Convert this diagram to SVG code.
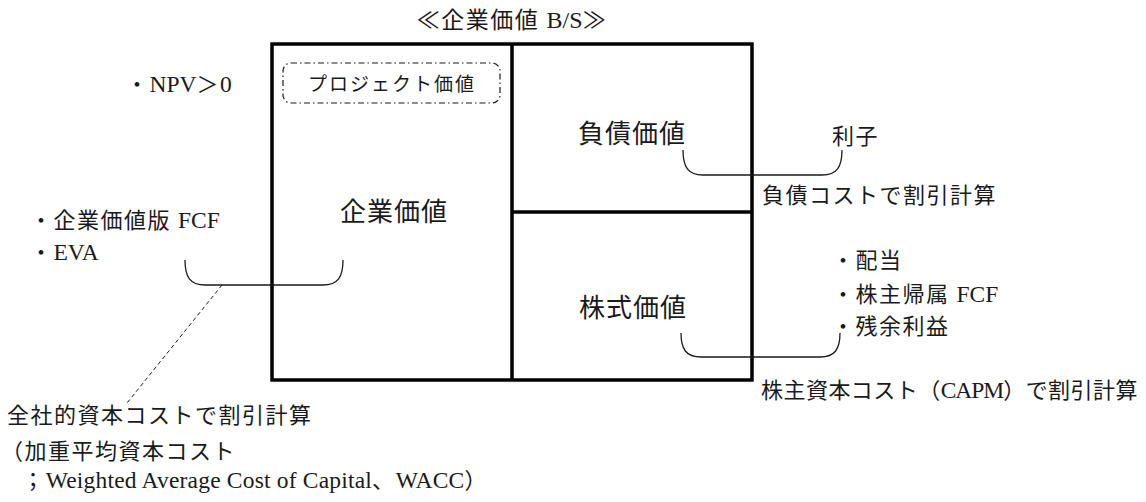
<svg xmlns="http://www.w3.org/2000/svg" width="1146" height="502" viewBox="0 0 1146 502">
<style>
text{font-family:"Liberation Serif","Noto Sans CJK JP",serif;fill:#1a1a1a;}
.s{font-size:22px;letter-spacing:1.5px;}
.b{font-size:26px;letter-spacing:1px;}
.l{font-family:"Liberation Serif",serif;letter-spacing:0;font-size:23.5px;}
.frame{fill:none;stroke:#000;stroke-width:3.5;}
.br{fill:none;stroke:#1a1a1a;stroke-width:1.3;}
</style>
<rect width="1146" height="502" fill="#fff"/>
<g id="title"><text class="s" x="512" y="28" text-anchor="middle" style="font-size:23px">≪企業価値 <tspan class="l" style="font-size:24px">B/S</tspan>≫</text></g>
<g id="bs">
<rect class="frame" x="272" y="44" width="480" height="336"/>
<line class="frame" x1="512" y1="44" x2="512" y2="380"/>
<line class="frame" x1="512" y1="212" x2="752" y2="212"/>
</g>
<g id="project"><rect x="283" y="63" width="217" height="40" rx="8" fill="none" stroke="#1a1a1a" stroke-width="1.2" stroke-dasharray="6,3,1.5,3"/>
<text x="392" y="91" text-anchor="middle" style="font-size:19px;letter-spacing:2px">プロジェクト価値</text></g>
<g id="npv"><text class="s" x="126" y="92">・<tspan class="l">NPV</tspan>＞<tspan class="l">0</tspan></text></g>
<g id="kigyo"><text class="b" x="340" y="221">企業価値</text></g>
<g id="fusai"><text class="b" x="578" y="143">負債価値</text></g>
<g id="kabushiki"><text class="b" x="579" y="317">株式価値</text></g>
<g id="rishi"><text class="s" x="832" y="144">利子</text></g>
<g id="fusaicost"><text class="s" x="762" y="203">負債コストで割引計算</text></g>
<g id="fcf"><text class="s" x="30" y="228">・企業価値版 <tspan class="l">FCF</tspan></text><text class="s" x="30" y="260">・<tspan class="l">EVA</tspan></text></g>
<g id="haito"><text class="s" x="832" y="268">・配当</text><text class="s" x="832" y="302">・株主帰属 <tspan class="l">FCF</tspan></text><text class="s" x="832" y="334">・残余利益</text></g>
<g id="capm"><text class="s" x="761" y="398" textLength="378" lengthAdjust="spacing">株主資本コスト（<tspan class="l">CAPM</tspan>）で割引計算</text></g>
<g id="wacc"><text class="s" x="7" y="423">全社的資本コストで割引計算</text><text class="s" x="1" y="459">（加重平均資本コスト</text><text class="s" x="22" y="488" textLength="466" lengthAdjust="spacing">；<tspan class="l">Weighted Average Cost of Capital</tspan>、<tspan class="l">WACC</tspan>）</text></g>
<g id="connectors">
<path class="br" d="M185,260 C185,277 190,285 205,285 L323,285 C338,285 343,277 343,260"/>
<path class="br" d="M683,150 C683,167 688,175 703,175 L822,175 C837,175 842,167 842,150"/>
<path class="br" d="M681,333 C681,349 686,357 701,357 L820,357 C835,357 840,349 840,333"/>
<line x1="222" y1="285" x2="127" y2="403" stroke="#1a1a1a" stroke-width="1" stroke-dasharray="4,3"/>
</g>
</svg>
